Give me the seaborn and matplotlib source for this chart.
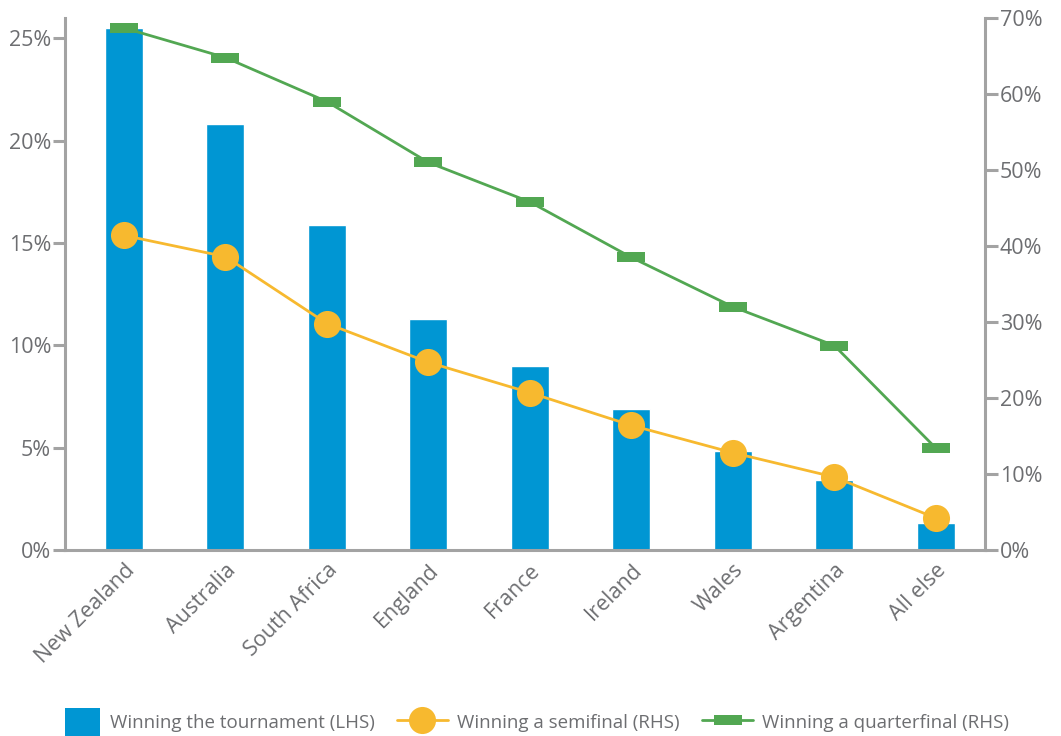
import numpy as np
import pandas as pd
import matplotlib
matplotlib.use('Agg')
import matplotlib.pyplot as plt
import seaborn as sns
from matplotlib.ticker import FuncFormatter
from matplotlib.patches import Patch, Rectangle
from matplotlib.lines import Line2D
from matplotlib.legend_handler import HandlerPatch

# Data
countries = ['New Zealand', 'Australia', 'South Africa', 'England', 'France',
             'Ireland', 'Wales', 'Argentina', 'All else']
win_tournament = [25.5, 20.8, 15.9, 11.3, 9.0, 6.9, 4.85, 3.4, 1.3]      # LHS
win_semifinal = [41.4, 38.6, 29.8, 24.7, 20.7, 16.4, 12.8, 9.6, 4.2]     # RHS
win_quarterfinal = [68.7, 64.8, 59.0, 51.0, 45.8, 38.5, 32.0, 26.9, 13.4]  # RHS

blue = '#0096d3'
orange = '#f7b92f'
green = '#52a752'
grey_axis = '#a3a3a3'
grey_text = '#6d6e71'

sns.set_style('white')
plt.rcParams['font.family'] = ['Open Sans', 'DejaVu Sans']

fig = plt.figure(figsize=(10.61, 7.36), dpi=100)
ax = fig.add_axes([0.0613, 0.2527, 0.8667, 0.7228])

df = pd.DataFrame({'country': countries, 'tournament': win_tournament,
                   'semi': win_semifinal, 'quarter': win_quarterfinal})

sns.barplot(data=df, x='country', y='tournament', ax=ax, color=blue,
            saturation=1, width=0.375)

ax2 = ax.twinx()
rect = [(-1.3, -0.5), (1.3, -0.5), (1.3, 0.5), (-1.3, 0.5)]
sns.lineplot(data=df, x='country', y='semi', ax=ax2, color=orange, sort=False,
             marker='o', markersize=19.5, markeredgewidth=0, linewidth=2)
sns.lineplot(data=df, x='country', y='quarter', ax=ax2, color=green, sort=False,
             marker=rect, markersize=20, markeredgewidth=0, linewidth=2)

ax.set_xlim(-0.58, 8.48)
ax.set_ylim(0, 26.0)
ax2.set_ylim(0, 70)
ax.set_yticks([0, 5, 10, 15, 20, 25])
ax2.set_yticks(np.arange(0, 71, 10))
pct = FuncFormatter(lambda v, p: f'{v:.0f}%')
ax.yaxis.set_major_formatter(pct)
ax2.yaxis.set_major_formatter(pct)

for a in (ax, ax2):
    a.set_xlabel('')
    a.set_ylabel('')
    for s in a.spines.values():
        s.set_visible(False)
ax.spines['left'].set_visible(True)
ax.spines['bottom'].set_visible(True)
ax2.spines['right'].set_visible(True)
for s in (ax.spines['left'], ax.spines['bottom'], ax2.spines['right']):
    s.set_color(grey_axis)
    s.set_linewidth(2.2)

ax.tick_params(axis='y', direction='out', length=9, width=2.2, color=grey_axis,
               labelcolor=grey_text, labelsize=15.5, pad=1, left=True)
ax2.tick_params(axis='y', direction='out', length=9, width=2.2, color=grey_axis,
                labelcolor=grey_text, labelsize=15.5, pad=2, right=True)
ax.tick_params(axis='x', length=0, labelcolor=grey_text, labelsize=15.5, pad=7)
for lab in ax.get_xticklabels():
    lab.set_rotation(45)
    lab.set_ha('right')
    lab.set_rotation_mode('anchor')
ax2.tick_params(axis='x', length=0, labelbottom=False)


def narrow_box(legend, orig_handle, xdescent, ydescent, width, height, fontsize):
    # bar swatch narrower than the line handles, sitting at the right of the box
    w = width * 0.7
    return Rectangle((width - w - xdescent, -ydescent - 2), w, height + 4)


handles = [
    Patch(facecolor=blue, edgecolor='none'),
    Line2D([], [], color=orange, lw=2, marker='o', markersize=19.5, markeredgewidth=0),
    Line2D([], [], color=green, lw=2, marker=rect, markersize=20, markeredgewidth=0),
]
labels = ['Winning the tournament (LHS)', 'Winning a semifinal (RHS)',
          'Winning a quarterfinal (RHS)']
leg = fig.legend(handles, labels, loc='center left', bbox_to_anchor=(0.031, 0.019),
                 ncol=3, frameon=False, fontsize=13.5, handlelength=2.7,
                 handleheight=1.45, columnspacing=1.2, handletextpad=0.5,
                 handler_map={Patch: HandlerPatch(patch_func=narrow_box)})
for t in leg.get_texts():
    t.set_color(grey_text)

fig.savefig('out.png', dpi=100)
